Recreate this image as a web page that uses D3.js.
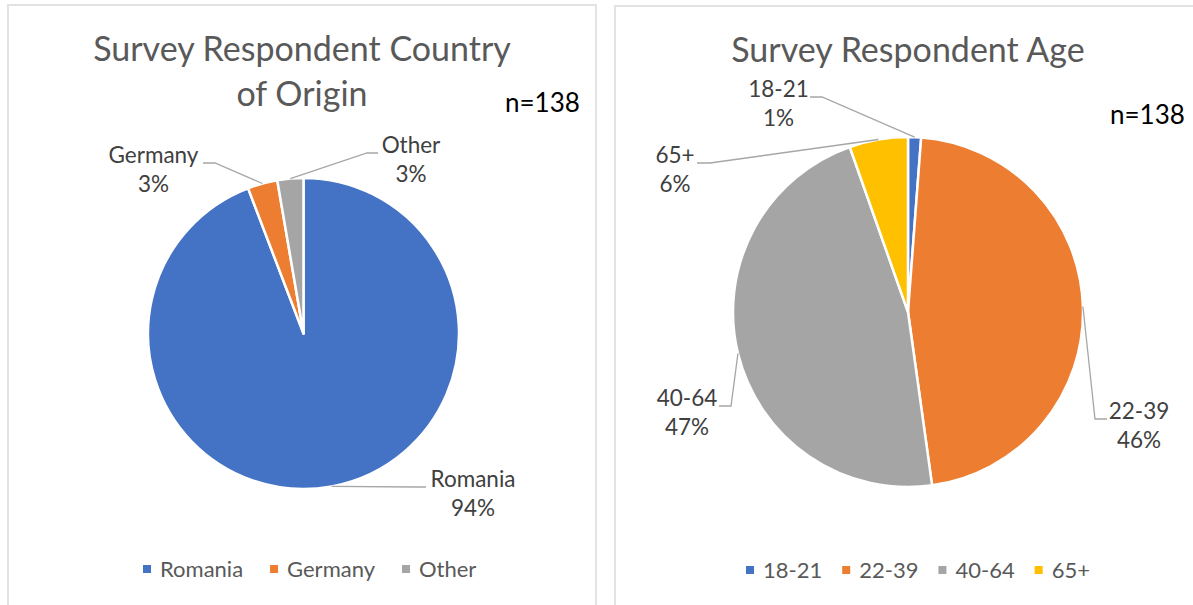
<!DOCTYPE html>
<html>
<head>
<meta charset="utf-8">
<script src="https://cdn.jsdelivr.net/npm/d3@7"></script>
<style>
  body { margin: 0; background: #fff; }
  svg text { font-family: Lato, "Open Sans", sans-serif; }
</style>
</head>
<body>
<div id="vis"></div>
<script>
// data
const countryNames = ["Romania", "Germany", "Other"];
const countryValues = [94.2, 3.1, 2.7];
const countryPct = ["94%", "3%", "3%"];

const ageNames = ["18-21", "22-39", "40-64", "65+"];
const ageValues = [1.2, 46.6, 46.8, 5.4];
const agePct = ["1%", "46%", "47%", "6%"];

const colors = ["#4472C4", "#ED7D31", "#A5A5A5", "#FFC000"];

const W = 1193, H = 605;
const svg = d3.select("#vis").append("svg")
  .attr("width", W)
  .attr("height", H);

// panel frames
[[8, 5, 588], [615, 6, 620]].forEach(([x, y, w]) => {
  svg.append("rect")
    .attr("x", x).attr("y", y)
    .attr("width", w).attr("height", 640)
    .attr("fill", "#fff")
    .attr("stroke", "#e3e3e3")
    .attr("stroke-width", 2);
});

function drawPie(cfg) {
  const g = svg.append("g");
  const data = cfg.names.map((n, i) => ({ name: n, value: cfg.values[i], pct: cfg.pct[i], color: colors[i] }));

  const pie = d3.pie().sort(null).value(d => d.value);
  const arcs = pie(data);
  const arc = d3.arc().innerRadius(0).outerRadius(cfg.r);
  const edge = d3.arc().innerRadius(cfg.r).outerRadius(cfg.r);

  const pg = g.append("g").attr("transform", `translate(${cfg.cx},${cfg.cy})`);
  pg.selectAll("path")
    .data(arcs)
    .enter()
    .append("path")
    .attr("d", arc)
    .attr("fill", d => d.data.color)
    .attr("stroke", "#fff")
    .attr("stroke-width", 2.5)
    .attr("stroke-linejoin", "round");

  // title
  cfg.title.forEach((t, i) => {
    g.append("text")
      .attr("x", cfg.titleX)
      .attr("y", cfg.titleY + i * 45)
      .attr("text-anchor", "middle")
      .attr("font-size", "34px")
      .attr("fill", "#595959")
      .text(t);
  });

  g.append("text")
    .attr("x", cfg.nX)
    .attr("y", cfg.nY)
    .attr("font-size", "26px")
    .attr("fill", "#000")
    .text("n=138");

  // data labels with leader lines
  arcs.forEach((a, i) => {
    const L = cfg.labels[i];
    const c = edge.centroid(a);
    const px = cfg.cx + c[0], py = cfg.cy + c[1];
    g.append("path")
      .attr("d", d3.line()([[L.sx, L.ty], [L.ex, L.ty], [px, py]]))
      .attr("fill", "none")
      .attr("stroke", "#a6a6a6")
      .attr("stroke-width", 1.3);

    [a.data.name, a.data.pct].forEach((t, j) => {
      g.append("text")
        .attr("x", L.tx)
        .attr("y", L.ty + j * 28.5)
        .attr("text-anchor", "middle")
        .attr("font-size", "22.5px")
        .attr("fill", "#404040")
        .text(t);
    });
  });

  // legend
  const lg = g.append("g");
  let x = cfg.legendX;
  data.forEach(d => {
    lg.append("rect")
      .attr("x", x)
      .attr("y", cfg.legendY - 4)
      .attr("width", 8)
      .attr("height", 8)
      .attr("fill", d.color);
    const t = lg.append("text")
      .attr("x", x + 17)
      .attr("y", cfg.legendY + 7.5)
      .attr("font-size", "22px")
      .attr("fill", "#595959")
      .text(d.name);
    x += 17 + t.node().getComputedTextLength() + cfg.legendGap;
  });
}

drawPie({
  names: countryNames, values: countryValues, pct: countryPct,
  cx: 303.5, cy: 333.5, r: 155.5,
  title: ["Survey Respondent Country", "of Origin"], titleX: 302, titleY: 61,
  nX: 505, nY: 112,
  labels: [
    { tx: 473, ty: 487, sx: 426, ex: 416 },
    { tx: 153.5, ty: 163, sx: 203, ex: 215 },
    { tx: 411, ty: 153, sx: 378, ex: 367 }
  ],
  legendX: 143, legendY: 569, legendGap: 27
});

drawPie({
  names: ageNames, values: ageValues, pct: agePct,
  cx: 908, cy: 312, r: 175,
  title: ["Survey Respondent Age"], titleX: 908, titleY: 62,
  nX: 1110, nY: 124,
  labels: [
    { tx: 778.5, ty: 97, sx: 810, ex: 822 },
    { tx: 1139, ty: 419, sx: 1107, ex: 1095 },
    { tx: 687, ty: 406, sx: 719, ex: 731 },
    { tx: 675, ty: 163, sx: 697, ex: 710 }
  ],
  legendX: 746, legendY: 570, legendGap: 20
});
</script>
</body>
</html>
